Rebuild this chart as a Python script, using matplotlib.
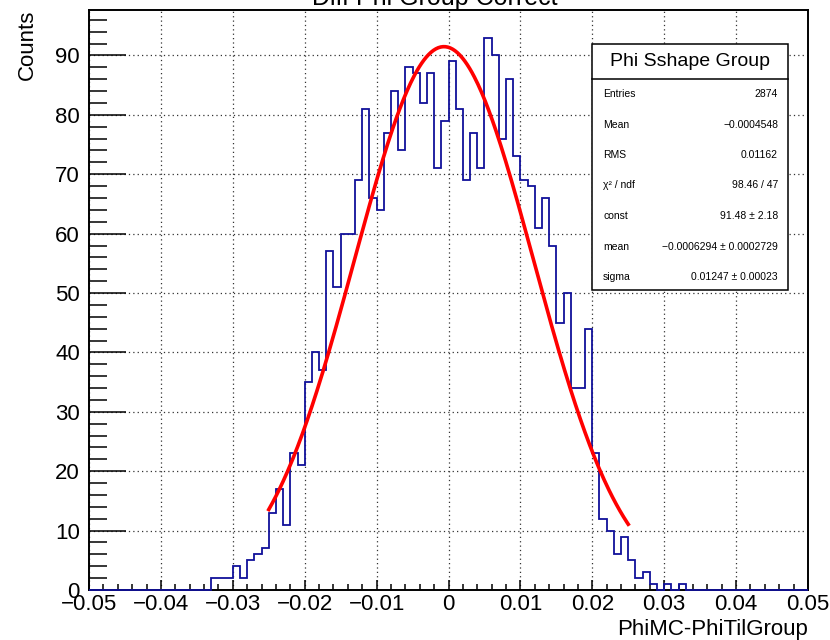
import numpy as np
import matplotlib
matplotlib.use('Agg')
import matplotlib.pyplot as plt
from matplotlib.ticker import MultipleLocator, FuncFormatter
from matplotlib.patches import Rectangle
from matplotlib.lines import Line2D

plt.rcParams['font.family'] = ['Liberation Sans', 'DejaVu Sans']

# histogram: 100 bins over [-0.05, 0.05], filled bins start at bin 17
x_low, x_high, n_bins = -0.05, 0.05, 100
first_bin = 17
filled = [2, 2, 2, 4, 2, 5, 6, 7, 13, 17, 11, 23, 21, 35, 40, 37, 57, 51,
          60, 60, 69, 81, 66, 64, 77, 84, 74, 88, 87, 82, 87, 71, 79, 89,
          81, 69, 77, 71, 93, 90, 76, 86, 73, 69, 68, 61, 66, 58, 45, 50,
          34, 34, 44, 23, 12, 10, 6, 9, 5, 2, 3, 1, 0, 1, 0, 1]
counts = [0] * first_bin + filled + [0] * (n_bins - first_bin - len(filled))

# gaussian fit result
fit_const, fit_mean, fit_sigma = 91.48, -0.0006294, 0.01247
fit_range = (-0.025, 0.025)

stat_names = ['Entries', 'Mean', 'RMS', 'χ² / ndf', 'const', 'mean', 'sigma']
stat_values = ['2874', '\u22120.0004548', '0.01162', '98.46 / 47',
               '91.48 ± 2.18', '\u22120.0006294 ± 0.0002729',
               '0.01247 ± 0.00023']

W, H = 830, 640
fig = plt.figure(figsize=(W / 100, H / 100), dpi=100)
ax = fig.add_axes([89 / W, 1 - 590 / H, (808 - 89) / W, (590 - 10) / H])

edges = np.linspace(x_low, x_high, n_bins + 1)
ax.stairs(counts, edges, color='#10109a', lw=1.3, zorder=3, clip_on=False)

xf = np.linspace(fit_range[0], fit_range[1], 300)
yf = fit_const * np.exp(-0.5 * ((xf - fit_mean) / fit_sigma) ** 2)
ax.plot(xf, yf, color='#ff0000', lw=2.6, zorder=4)

ax.set_xlim(x_low, x_high)
ax.set_ylim(0, max(counts) * 1.05)

ax.xaxis.set_major_locator(MultipleLocator(0.01))
ax.xaxis.set_minor_locator(MultipleLocator(0.002))
ax.yaxis.set_major_locator(MultipleLocator(10))
ax.yaxis.set_minor_locator(MultipleLocator(2))


def fmt_x(v, pos):
    if abs(v) < 1e-9:
        return '0'
    return ('%.2f' % v).replace('-', '\u2212')


ax.xaxis.set_major_formatter(FuncFormatter(fmt_x))

ax.tick_params(axis='x', which='major', direction='in', length=7.2, width=1.1,
               labelsize=16, pad=3)
ax.tick_params(axis='x', which='minor', direction='in', length=4.3, width=1.1)
ax.tick_params(axis='y', which='major', direction='in', length=26.5, width=1.1,
               labelsize=16, pad=6.5)
ax.tick_params(axis='y', which='minor', direction='in', length=13, width=1.1)
for s in ax.spines.values():
    s.set_linewidth(1.4)

ax.grid(True, which='major', color='#333333', lw=0.9, linestyle=(0, (1, 2.5)))
ax.set_axisbelow(True)

fig.text(435 / W, 1 - 5 / H, 'Diff Phi Group Correct', ha='center',
         va='baseline', fontsize=18)
fig.text(27 / W, 1 - 10 / H, 'Counts', rotation=90, ha='center', va='top',
         fontsize=16)
fig.text(808 / W, 5 / H, 'PhiMC-PhiTilGroup', ha='right', va='baseline',
         fontsize=16)

# stats box
bx0, bx1, by0, by1 = 592, 788, 44, 290
fig.add_artist(Rectangle((bx0 / W, 1 - by1 / H), (bx1 - bx0) / W,
                         (by1 - by0) / H, transform=fig.transFigure,
                         facecolor='white', edgecolor='black', lw=1.1,
                         zorder=5))
fig.add_artist(Line2D([bx0 / W, bx1 / W], [1 - 79 / H, 1 - 79 / H],
                      transform=fig.transFigure, color='black', lw=1.1,
                      zorder=6))
fig.text((bx0 + bx1) / 2 / W, 1 - 62 / H, 'Phi Sshape Group', ha='center',
         va='center', fontsize=14, zorder=7)
for i, (name, val) in enumerate(zip(stat_names, stat_values)):
    yy = 1 - (94 + i * 30.5) / H
    fig.text(603 / W, yy, name, ha='left', va='center', fontsize=7.5, zorder=7)
    fig.text(778 / W, yy, val, ha='right', va='center', fontsize=7.5, zorder=7)

fig.savefig('out.png', dpi=100)
